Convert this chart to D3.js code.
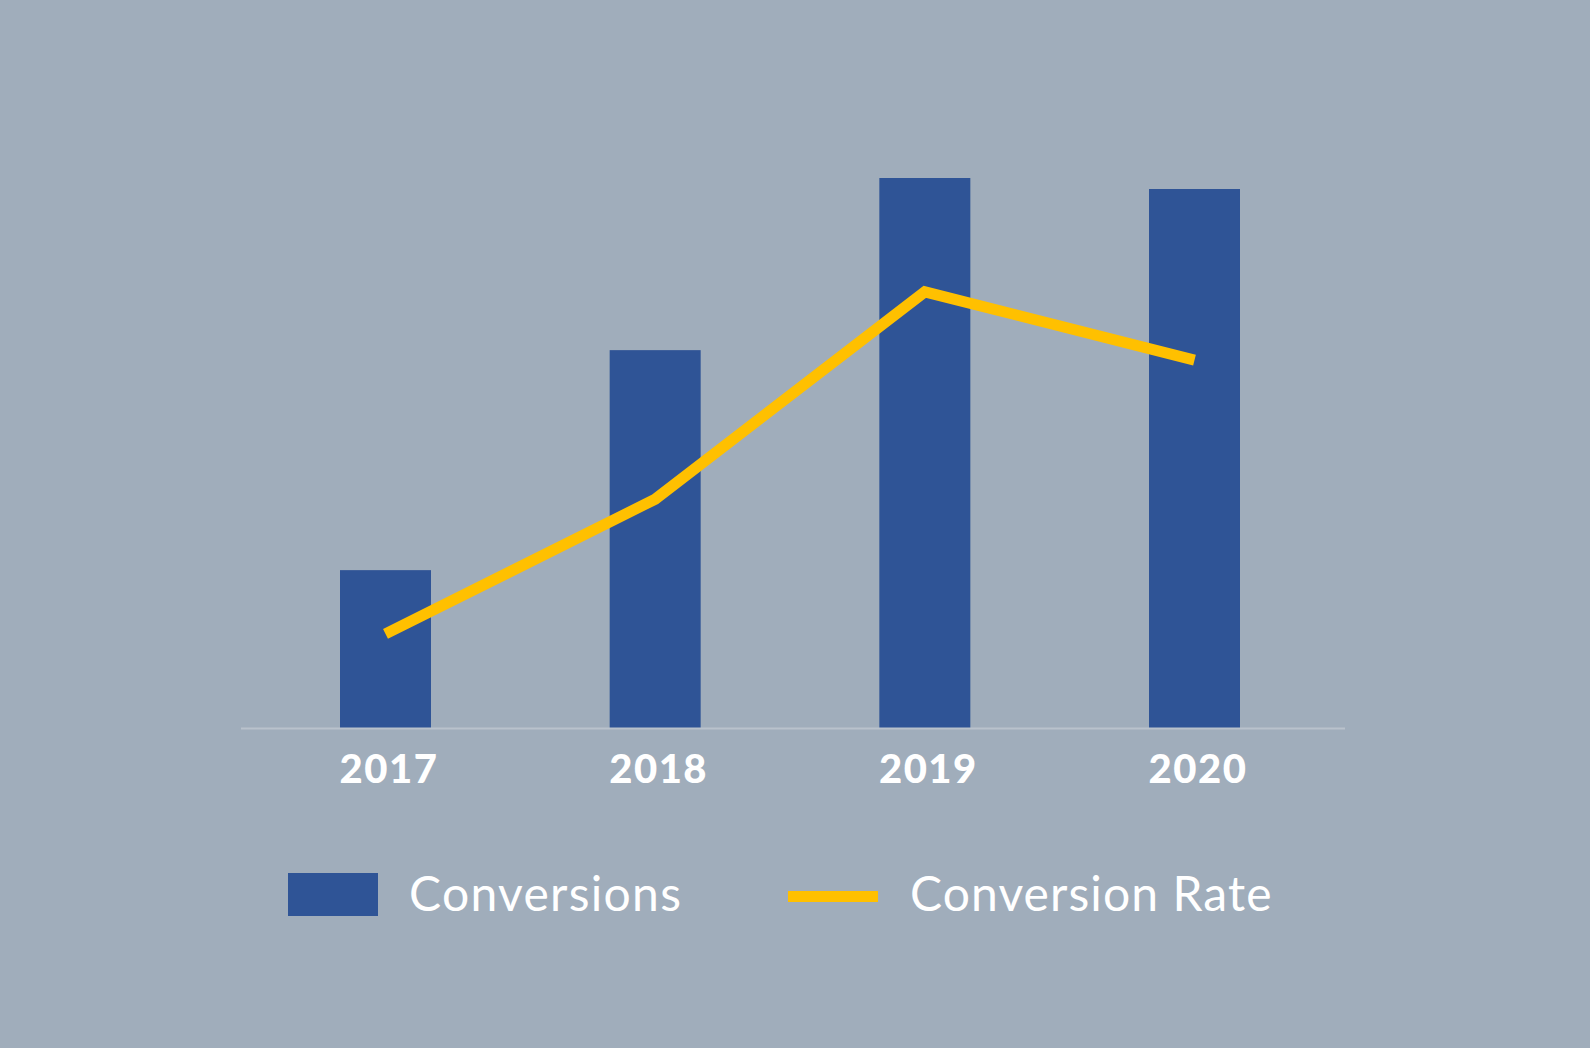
<!DOCTYPE html>
<html><head><meta charset="utf-8">
<script src="https://cdn.jsdelivr.net/npm/d3@7"></script>
<style>html,body{margin:0;padding:0;background:#fff;}svg{display:block;}</style>
</head><body>
<script>
const years = ["2017", "2018", "2019", "2020"];
const conversions = [287, 687, 1000, 980];
const conversionRate = [1.71, 4.16, 7.93, 6.69];
const legendLabels = ["Conversions", "Conversion Rate"];

const W = 1590, H = 1060;
const svg = d3.select("body").append("svg").attr("width", W).attr("height", H);
svg.append("rect").attr("width", W).attr("height", 1048).attr("fill", "#a0adbb");

const x = d3.scalePoint().domain(years).range([385.5, 1194.5]);
const barW = 91;
const yBar = d3.scaleLinear().domain([0, 1000]).range([728, 178]);
const yRate = d3.scaleLinear().domain([0, 10]).range([728, 178]);

svg.selectAll("rect.bar").data(years).enter().append("rect")
  .attr("class", "bar")
  .attr("x", d => x(d) - barW / 2)
  .attr("width", barW)
  .attr("y", (d, i) => yBar(conversions[i]))
  .attr("height", (d, i) => yBar(0) - yBar(conversions[i]))
  .attr("fill", "#2f5496");

svg.append("line").attr("x1", 241).attr("x2", 1345).attr("y1", 728.5).attr("y2", 728.5)
  .attr("stroke", "#b9c2cc").attr("stroke-width", 2);

const line = d3.line().x((d, i) => x(years[i])).y(d => yRate(d));
svg.append("path").datum(conversionRate).attr("d", line)
  .attr("fill", "none").attr("stroke", "#ffc000").attr("stroke-width", 11)
  .attr("stroke-linejoin", "miter");

const axis = d3.axisBottom(x).tickSize(0).tickPadding(0);
const ag = svg.append("g").attr("transform", "translate(0,783)").call(axis);
ag.select(".domain").remove();
ag.selectAll("text").attr("dy", 0).attr("dx", 3).attr("fill", "#fff")
  .style("font-family", "Lato").style("font-weight", 900).style("font-size", "40px")
  .style("letter-spacing", "1.5px");

// Legend
svg.append("rect").attr("x", 288).attr("y", 873).attr("width", 90).attr("height", 43).attr("fill", "#2f5496");
svg.append("text").attr("x", 409).attr("y", 911).text(legendLabels[0])
  .attr("fill", "#fff").style("font-family", "Lato").style("font-size", "48px")
  .style("letter-spacing", "1.3px");
svg.append("rect").attr("x", 788).attr("y", 891).attr("width", 90).attr("height", 11).attr("fill", "#ffc000");
svg.append("text").attr("x", 910).attr("y", 911).text(legendLabels[1])
  .attr("fill", "#fff").style("font-family", "Lato").style("font-size", "48px")
  .style("letter-spacing", "1.1px");
</script>
</body></html>
